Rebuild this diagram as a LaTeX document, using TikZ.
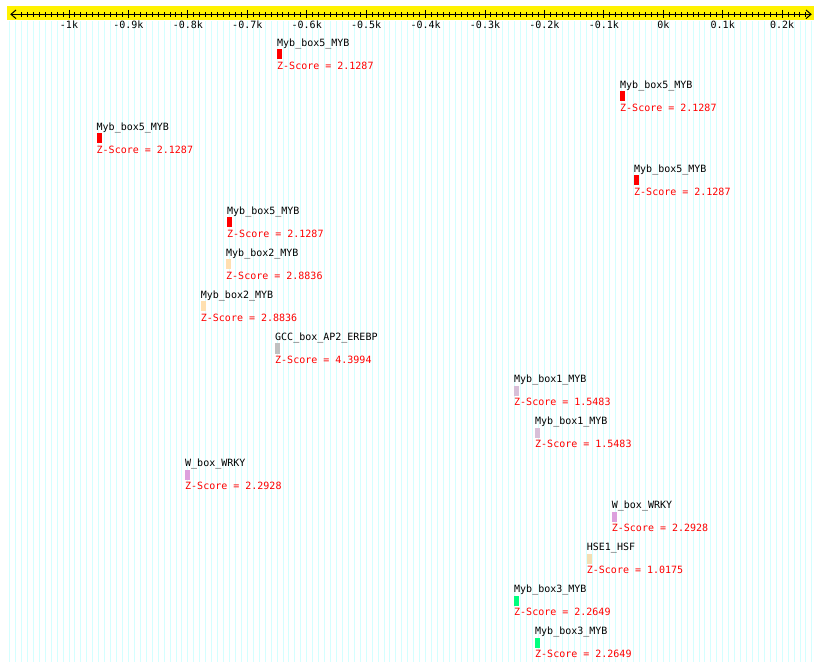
\documentclass[tikz,border=0pt]{standalone}
\usepackage{fontspec}
\setmonofont{DejaVu Sans Mono}
\definecolor{gridc}{HTML}{D4FFFF}
\definecolor{cfive}{HTML}{FF0000}
\definecolor{ctwo}{HTML}{FFDFB0}
\definecolor{cgcc}{HTML}{C0C0C0}
\definecolor{cone}{HTML}{D8BFD8}
\definecolor{cw}{HTML}{DDA0DD}
\definecolor{chse}{HTML}{F5DEB3}
\definecolor{cthree}{HTML}{00FF7F}
\begin{document}
\begin{tikzpicture}[x=1pt,y=-1pt,
  lbl/.style={anchor=base west, inner sep=0pt, font=\ttfamily\fontsize{10}{12}\selectfont},
  zs/.style={lbl, text=red},
  ticklbl/.style={anchor=base, inner sep=0pt, font=\ttfamily\fontsize{10}{12}\selectfont},
  bar/.style={draw=none, inner sep=0pt, minimum width=5pt, minimum height=10pt, anchor=north west}]
\fill[white] (0,0) rectangle (820,671);
\useasboundingbox (0,0) rectangle (820,671);
% grid
\foreach \u in {-1100,-1090,...,250}
  \draw[gridc, line width=0.9pt] ({663.3+0.5943*\u},21) -- ({663.3+0.5943*\u},662);
% ruler
\fill[yellow] (7,6.5) rectangle (814,20.5);
\draw[line width=1pt] (11,14.3) -- (811,14.3);
\draw[line width=1pt] (16,10) -- (11,14.3) -- (16,18.6);
\draw[line width=1pt] (806,10) -- (811,14.3) -- (806,18.6);
\foreach \u in {-1080,-1070,...,240}
  \draw[line width=1pt] ({663.3+0.5943*\u},12.3) -- ({663.3+0.5943*\u},16.7);
\foreach \u/\t in {-1000/-1k,-900/-0.9k,-800/-0.8k,-700/-0.7k,-600/-0.6k,-500/-0.5k,-400/-0.4k,-300/-0.3k,-200/-0.2k,-100/-0.1k,0/0k,100/0.1k,200/0.2k}{
  \draw[line width=1pt] ({663.3+0.5943*\u},10) -- ({663.3+0.5943*\u},18.5);
  \node[ticklbl] (t\u) at ({663.3+0.5943*\u},28.3) {\t};
}
% motifs
\foreach \i/\x/\nm/\col/\z in {
  1/277/Myb\_box5\_MYB/cfive/2.1287,
  2/620/Myb\_box5\_MYB/cfive/2.1287,
  3/96.5/Myb\_box5\_MYB/cfive/2.1287,
  4/634/Myb\_box5\_MYB/cfive/2.1287,
  5/227/Myb\_box5\_MYB/cfive/2.1287,
  6/226/Myb\_box2\_MYB/ctwo/2.8836,
  7/200.7/Myb\_box2\_MYB/ctwo/2.8836,
  8/275/GCC\_box\_AP2\_EREBP/cgcc/4.3994,
  9/514/Myb\_box1\_MYB/cone/1.5483,
  10/535/Myb\_box1\_MYB/cone/1.5483,
  11/185/W\_box\_WRKY/cw/2.2928,
  12/611.7/W\_box\_WRKY/cw/2.2928,
  13/586.7/HSE1\_HSF/chse/1.0175,
  14/514/Myb\_box3\_MYB/cthree/2.2649,
  15/535/Myb\_box3\_MYB/cthree/2.2649}{
  \pgfmathsetmacro{\T}{49.3+42*(\i-1)}
  \node[lbl] (l\i) at (\x,\T-2.5) {\nm};
  \node[bar, fill=\col] (b\i) at (\x,\T) {};
  \node[zs] (z\i) at (\x,\T+20.5) {Z-Score = \z};
}
\end{tikzpicture}
\end{document}
